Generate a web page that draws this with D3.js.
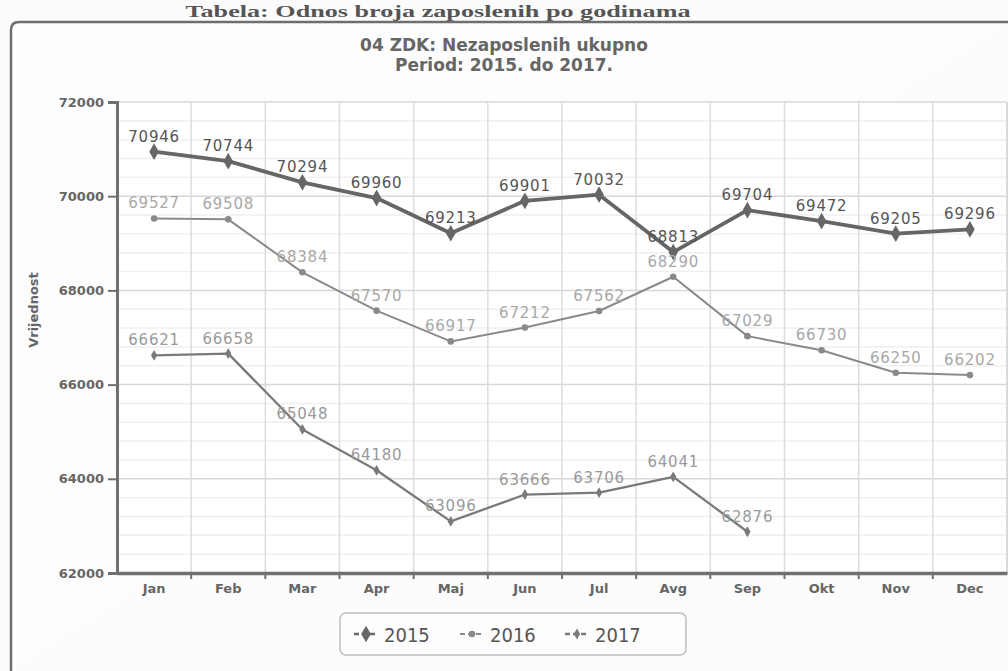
<!DOCTYPE html>
<html><head><meta charset="utf-8">
<script src="https://cdn.jsdelivr.net/npm/d3@7"></script>
<style>
html,body{margin:0;padding:0;background:#fcfcfc;}
svg{display:block;}
</style></head>
<body>
<svg id="c" width="1008" height="671"></svg>
<script>
const months = ["Jan","Feb","Mar","Apr","Maj","Jun","Jul","Avg","Sep","Okt","Nov","Dec"];
const years = ["2015","2016","2017"];
const values2015 = [70946,70744,70294,69960,69213,69901,70032,68813,69704,69472,69205,69296];
const values2016 = [69527,69508,68384,67570,66917,67212,67562,68290,67029,66730,66250,66202];
const values2017 = [66621,66658,65048,64180,63096,63666,63706,64041,62876];
const yTicks = [62000,64000,66000,68000,70000,72000];
const pageTitle = "Tabela: Odnos broja zaposlenih po godinama";
const chartTitle1 = "04 ZDK: Nezaposlenih ukupno";
const chartTitle2 = "Period: 2015. do 2017.";
const yAxisTitle = "Vrijednost";

const series = [
  {name:years[0], values:values2015, color:"#666666", width:3.8, label:"#555555", msize:80, shape:d3.symbolDiamond},
  {name:years[1], values:values2016, color:"#8a8a8a", width:2, label:"#a8a8a8", msize:34, shape:d3.symbolCircle},
  {name:years[2], values:values2017, color:"#7a7a7a", width:2.3, label:"#9a9a9a", msize:34, shape:d3.symbolDiamond}
];

const svg = d3.select("#c");
const L = 117, R = 1007, T = 102, B = 573;
const x = d3.scaleBand().domain(months).range([L, R]).padding(0);
const y = d3.scaleLinear().domain([62000, 72000]).range([B, T]);

// page title
svg.append("text").attr("x", 438).attr("y", 17).attr("text-anchor","middle")
  .attr("font-family","Liberation Serif").attr("font-weight","bold").attr("font-size",17)
  .attr("fill","#555").attr("textLength",505).attr("lengthAdjust","spacingAndGlyphs").text(pageTitle);

// outer frame
svg.append("path").attr("d","M11,671 L11,30 Q11,22 19,22 L1008,22")
  .attr("fill","#fdfdfd").attr("stroke","#6e6e6e").attr("stroke-width",2.5);

// plot background
svg.append("rect").attr("x",L).attr("y",T).attr("width",R-L).attr("height",B-T).attr("fill","#ffffff");

// minor horizontal grid
const minor = d3.range(62000, 72001, 400).filter(v => v % 2000 !== 0);
svg.append("g").selectAll("line").data(minor).join("line")
  .attr("x1",L).attr("x2",R).attr("y1",d=>y(d)).attr("y2",d=>y(d))
  .attr("stroke","#efefef").attr("stroke-width",1.5);
// major horizontal grid
svg.append("g").selectAll("line").data(yTicks).join("line")
  .attr("x1",L).attr("x2",R).attr("y1",d=>y(d)).attr("y2",d=>y(d))
  .attr("stroke","#d8d8d8").attr("stroke-width",1.5);
// vertical grid at band boundaries
svg.append("g").selectAll("line").data(months.slice(1)).join("line")
  .attr("x1",d=>x(d)).attr("x2",d=>x(d)).attr("y1",T).attr("y2",B)
  .attr("stroke","#dcdcdc").attr("stroke-width",1.5);
svg.append("line").attr("x1",R).attr("x2",R).attr("y1",T).attr("y2",B).attr("stroke","#cfcfcf").attr("stroke-width",1.5);

// y axis
const yAxis = svg.append("g").attr("transform",`translate(${L},0)`)
  .call(d3.axisLeft(y).tickValues(yTicks).tickSize(9).tickPadding(4).tickFormat(d3.format("d")));
yAxis.select(".domain").attr("stroke","#707070").attr("stroke-width",3);
yAxis.selectAll(".tick line").attr("stroke","#707070").attr("stroke-width",2);
yAxis.selectAll("text").attr("font-family","DejaVu Sans").attr("font-weight","bold")
  .attr("font-size",13).attr("fill","#666");

// x axis
const xAxis = svg.append("g").attr("transform",`translate(0,${B})`)
  .call(d3.axisBottom(x).tickSize(0).tickPadding(11));
xAxis.select(".domain").attr("stroke","#707070").attr("stroke-width",3.5);
xAxis.selectAll("text").attr("font-family","DejaVu Sans").attr("font-weight","bold")
  .attr("font-size",13).attr("fill","#666");
svg.append("g").selectAll("line").data(months.slice(1)).join("line")
  .attr("x1",d=>x(d)).attr("x2",d=>x(d)).attr("y1",B).attr("y2",B+6)
  .attr("stroke","#707070").attr("stroke-width",2);

// y axis title
svg.append("text").attr("transform","translate(38,310) rotate(-90)").attr("text-anchor","middle")
  .attr("font-family","DejaVu Sans").attr("font-weight","bold").attr("font-size",13)
  .attr("fill","#666").text(yAxisTitle);

// chart titles
svg.append("text").attr("x",504).attr("y",51).attr("text-anchor","middle")
  .attr("font-family","DejaVu Sans").attr("font-weight","bold").attr("font-size",17)
  .attr("fill","#666").text(chartTitle1);
svg.append("text").attr("x",504).attr("y",71).attr("text-anchor","middle")
  .attr("font-family","DejaVu Sans").attr("font-weight","bold").attr("font-size",17)
  .attr("fill","#666").text(chartTitle2);

// series
const cx = m => x(m) + x.bandwidth()/2;
series.forEach(s => {
  const pts = s.values.map((v,i)=>({m:months[i], v}));
  const line = d3.line().x(d=>cx(d.m)).y(d=>y(d.v));
  svg.append("path").datum(pts).attr("d",line).attr("fill","none")
    .attr("stroke",s.color).attr("stroke-width",s.width).attr("stroke-linejoin","round");
  svg.append("g").selectAll("path").data(pts).join("path")
    .attr("transform",d=>`translate(${cx(d.m)},${y(d.v)})`)
    .attr("d",d3.symbol().type(s.shape).size(s.msize)).attr("fill",s.color);
  svg.append("g").selectAll("text").data(pts).join("text")
    .attr("x",d=>cx(d.m)).attr("y",d=>y(d.v)-10).attr("text-anchor","middle")
    .attr("font-family","DejaVu Sans").attr("font-size",15).attr("letter-spacing",0.8)
    .attr("fill",s.label).text(d=>d.v);
});

// legend
const lg = svg.append("g");
lg.append("rect").attr("x",340).attr("y",613).attr("width",346).attr("height",42).attr("rx",6)
  .attr("fill","#fdfdfd").attr("stroke","#bdbdbd").attr("stroke-width",1.5);
const lx = [354, 460, 565];
series.forEach((s,i)=>{
  const g = lg.append("g").attr("transform",`translate(${lx[i]},634)`);
  g.append("line").attr("x1",0).attr("x2",24).attr("y1",0).attr("y2",0)
    .attr("stroke",s.color).attr("stroke-width",Math.min(s.width,2.5)).attr("stroke-dasharray","5,3");
  g.append("path").attr("transform","translate(12,0)").attr("d",d3.symbol().type(s.shape).size(s.msize)).attr("fill",s.color);
  g.append("text").attr("x",30).attr("y",8).attr("font-family","DejaVu Sans Condensed")
    .attr("font-size",20).attr("fill","#555").text(s.name);
});
</script>
</body></html>
